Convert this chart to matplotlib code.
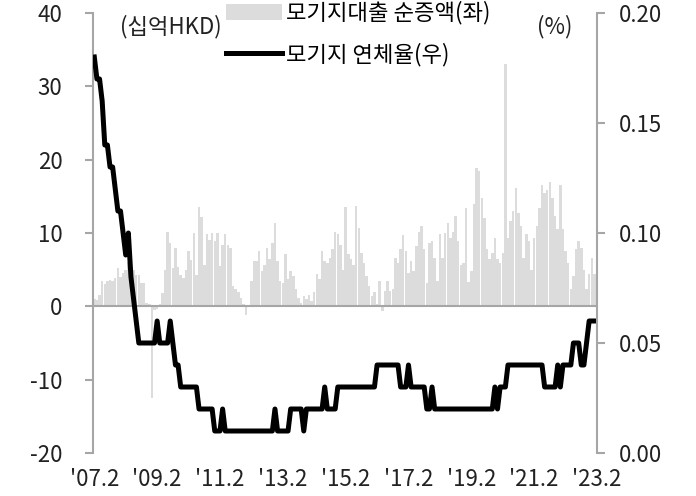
import matplotlib
matplotlib.use('Agg')
import matplotlib.pyplot as plt
import numpy as np
from matplotlib.patches import Patch
from matplotlib.lines import Line2D

plt.rcParams['font.family'] = ['Noto Sans CJK KR', 'DejaVu Sans']
plt.rcParams['axes.unicode_minus'] = False

# monthly, '07.2 ~ '23.2
# 모기지대출 순증액 (십억HKD)
loan_change = [
    1.0, 0.8, 1.5, 3.5, 3.0, 3.5, 3.6, 3.4, 3.8, 5.2, 4.0, 4.5,
    5.0, 6.0, 4.5, 5.0, 4.3, 4.3, 3.2, 3.2, 0.5, 0.3, -12.5, -0.5,
    -0.3, 0.3, 1.8, 5.0, 10.2, 8.6, 5.2, 8.0, 5.4, 4.3, 3.9, 5.0,
    7.5, 6.3, 10.0, 4.3, 13.6, 12.2, 5.7, 9.8, 9.0, 10.0,
    8.9, 10.0, 5.5, 8.4, 9.8, 8.4, 8.0, 2.8, 2.3, 1.9, 1.2, 0.3,
    -1.2, 0.0, 3.4, 6.2, 6.2, 7.5, 4.8, 5.7, 8.0, 6.4, 8.7, 11.4,
    6.2, 3.4, 3.2, 7.1, 3.7, 4.8, 4.1, 2.3, 1.2, 0.5, 1.4, 1.0,
    1.6, 0.7, 1.9, 4.4, 3.7, 7.5, 6.2, 5.9, 6.6, 7.8, 10.2, 9.8,
    8.4, 5.0, 13.6, 7.1, 6.4, 5.7, 13.7, 10.7, 7.3, 5.9, 4.1, 2.8,
    1.4, 2.0, 0.3, 3.4, -0.6, 2.1, 3.4, 2.1, 2.3, 6.6, 5.9, 7.8,
    9.7, 7.5, 4.6, 6.2, 4.8, 8.2, 10.2, 11.0, 7.8, 3.2, 8.7, 8.9,
    6.6, 3.4, 9.8, 6.6, 10.0, 11.4, 9.3, 10.2, 12.3, 8.9, 5.7, 5.9,
    13.4,
    3.3, 4.8, 13.9, 18.9, 18.4, 14.8, 12.1, 7.8, 6.4, 7.3, 9.3, 6.4,
    5.9, 7.3, 33.0, 9.3, 11.6, 13.0, 16.1, 12.7, 10.9, 6.6, 9.8, 8.9,
    5.0, 9.3, 10.9, 13.4, 16.6, 15.5, 15.9, 17.0, 14.8, 12.3, 10.5, 16.5,
    10.5, 7.5, 5.9, 2.3, 4.1, 7.8, 8.9, 8.0, 5.0, 2.3, 4.4, 6.6,
    4.4, 3.4,
]

# 모기지 연체율 (%)
delinquency = [
    .18, .17, .17, .16, .14, .14, .13, .13, .12, .11, .11, .10,
    .09, .10, .08, .07, .06, .05, .05, .05, .05, .05, .05, .05,
    .06, .05, .05, .05, .05, .06, .05, .04, .04, .03, .03, .03,
    .03, .03, .03, .03, .02, .02, .02, .02, .02, .02, .01, .01,
    .01, .02, .01, .01, .01, .01, .01, .01, .01, .01, .01, .01,
    .01, .01, .01, .01, .01, .01, .01, .01, .01, .02, .01, .01,
    .01, .01, .01, .02, .02, .02, .02, .02, .01, .02, .02, .02,
    .02, .02, .02, .02, .03, .02, .02, .02, .02, .03, .03, .03,
    .03, .03, .03, .03, .03, .03, .03, .03, .03, .03, .03, .03,
    .04, .04, .04, .04, .04, .04, .04, .04, .04, .03, .03, .03,
    .04, .03, .03, .03, .03, .03, .03, .02, .02, .03, .02, .02,
    .02, .02, .02, .02, .02, .02, .02, .02, .02, .02, .02, .02,
    .02, .02, .02, .02, .02, .02, .02, .02, .02, .03, .02, .03,
    .03, .03, .04, .04, .04, .04, .04, .04, .04, .04, .04, .04,
    .04, .04, .04, .04, .03, .03, .03, .03, .03, .04, .03, .04,
    .04, .04, .04, .05, .05, .05, .04, .04, .05, .06, .06, .06,
    .06,
]

tick_labels = ["'07.2", "'09.2", "'11.2", "'13.2", "'15.2",
               "'17.2", "'19.2", "'21.2", "'23.2"]

x = np.arange(len(loan_change))
gray = '#a6a6a6'
bar_color = '#dcdcdc'
fs = 16

fig = plt.figure(figsize=(6.96, 4.96), dpi=100)
ax = fig.add_axes([93 / 696, 1 - 453 / 496, 504 / 696, 440 / 496])
ax2 = ax.twinx()

ax.bar(x, loan_change, width=0.95, color=bar_color, linewidth=0)
ax.axhline(0, color=gray, lw=1.5)
ax2.plot(x, delinquency, color='black', lw=3.6)

ax.set_xlim(-0.5, len(x) - 1)
ax.set_ylim(-20, 40)
ax.set_yticks(range(-20, 41, 10))
ax2.set_ylim(0, 0.2)
ax2.set_yticks([0, 0.05, 0.10, 0.15, 0.20])
ax2.set_yticklabels(['0.00', '0.05', '0.10', '0.15', '0.20'])

ax.set_xticks(np.arange(len(tick_labels)) * 24)
ax.set_xticklabels(tick_labels)

for a in (ax, ax2):
    for s in ['top', 'bottom']:
        a.spines[s].set_visible(False)
ax.spines['right'].set_visible(False)
ax2.spines['left'].set_visible(False)
ax.spines['left'].set_color(gray)
ax2.spines['right'].set_color(gray)
ax.spines['left'].set_linewidth(1.5)
ax2.spines['right'].set_linewidth(1.5)

ax.tick_params(axis='x', length=0, pad=11, labelsize=fs, colors='#222222')
ax.tick_params(axis='y', length=6, width=1.5, color=gray, pad=16,
               labelsize=fs, labelcolor='#222222')
ax2.tick_params(axis='y', length=6, width=1.5, color=gray, pad=10,
                labelsize=fs, labelcolor='#222222')

handles = [Patch(facecolor=bar_color, edgecolor='none'),
           Line2D([0], [0], color='black', lw=3.6)]
labels = ['모기지대출 순증액(좌)', '모기지 연체율(우)']
fig.legend(handles, labels, loc='upper left',
           bbox_to_anchor=(226 / 696, 1 - 1 / 496), frameon=False,
           fontsize=fs, handlelength=2.5, handletextpad=0.2,
           labelspacing=0.8, borderpad=0, borderaxespad=0)

fig.text(120 / 696, 1 - 27 / 496, '(십억HKD)', fontsize=fs, va='center',
         color='#222222')
fig.text(537 / 696, 1 - 27 / 496, '(%)', fontsize=fs, va='center',
         color='#222222')

fig.savefig('out.png', dpi=100)
